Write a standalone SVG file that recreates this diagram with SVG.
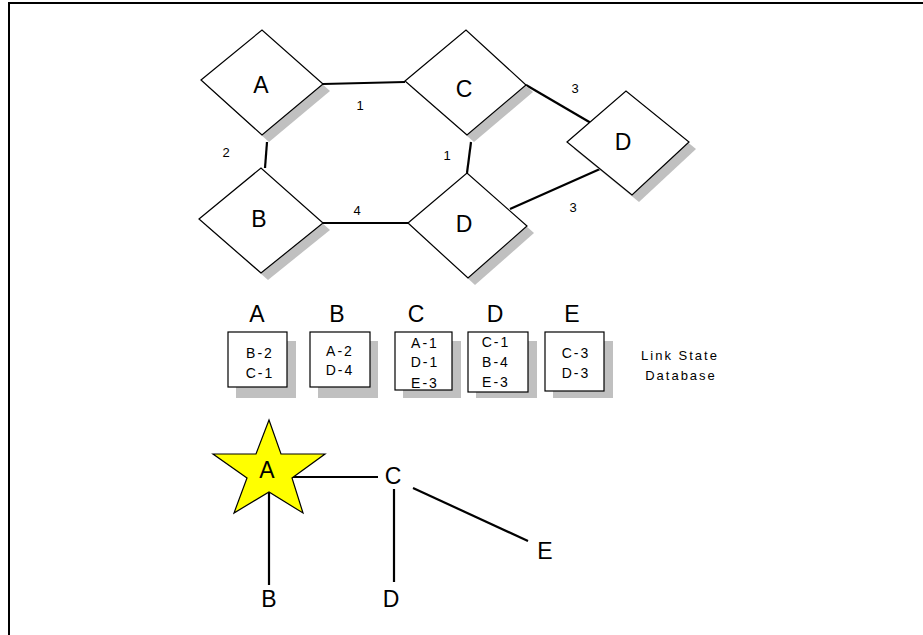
<svg xmlns="http://www.w3.org/2000/svg" width="923" height="635" viewBox="0 0 923 635">
<style>
.frame{fill:none;stroke:#000;stroke-width:2}
.dia{fill:#fff;stroke:#000;stroke-width:1.2}
.sh{fill:#c0c0c0;stroke:none}
.box{fill:#fff;stroke:#000;stroke-width:1.2}
.ln{stroke:#000;stroke-width:2.2;fill:none}
.big{font-family:"Liberation Sans",Arial,sans-serif;font-size:23px;text-anchor:middle;fill:#000}
.lbl{font-family:"Liberation Sans",Arial,sans-serif;font-size:13px;text-anchor:middle;fill:#000}
.db{font-family:"Liberation Sans",Arial,sans-serif;font-size:14px;letter-spacing:2px;text-anchor:middle;fill:#000}
.cap{font-family:"Liberation Sans",Arial,sans-serif;font-size:13px;letter-spacing:2px;text-anchor:middle;fill:#000}
</style>
<rect width="923" height="635" fill="#fff"/>
<polyline class="frame" points="9,635 9,3 923,3"/>

<g id="connectors">
<line class="ln" x1="323" y1="84" x2="405" y2="82"/>
<line class="ln" x1="267" y1="142" x2="265" y2="168"/>
<line class="ln" x1="471" y1="142" x2="467" y2="173"/>
<line class="ln" x1="323" y1="223" x2="410" y2="223"/>
<line class="ln" x1="526" y1="85" x2="591" y2="123"/>
<line class="ln" x1="510" y1="209" x2="600" y2="169"/>
<text class="lbl" x="360" y="110">1</text>
<text class="lbl" x="226" y="157">2</text>
<text class="lbl" x="447" y="160">1</text>
<text class="lbl" x="357" y="215">4</text>
<text class="lbl" x="575" y="93">3</text>
<text class="lbl" x="573" y="212">3</text>
<line class="ln" x1="291" y1="477" x2="378" y2="477"/>
<line class="ln" x1="269" y1="492" x2="269" y2="585"/>
<line class="ln" x1="394" y1="489" x2="394" y2="582"/>
<line class="ln" x1="413" y1="488" x2="528" y2="541"/>
</g>

<g id="node-A">
<polygon class="sh" points="208,87 269,37 330,91 269,142"/>
<polygon class="dia" points="201,80 262,30 323,84 262,135"/>
<text class="big" x="261" y="93">A</text>
</g>
<g id="node-C">
<polygon class="sh" points="412,88 473,37 533,92 474,142"/>
<polygon class="dia" points="405,81 466,30 526,85 467,135"/>
<text class="big" x="464" y="97">C</text>
</g>
<g id="node-B">
<polygon class="sh" points="206,226 268,175 330,230 268,280"/>
<polygon class="dia" points="199,219 261,168 323,223 261,273"/>
<text class="big" x="259" y="227">B</text>
</g>
<g id="node-D1">
<polygon class="sh" points="415,230 474,180 534,233 475,285"/>
<polygon class="dia" points="408,223 467,173 527,226 468,278"/>
<text class="big" x="464" y="232">D</text>
</g>
<g id="node-D2">
<polygon class="sh" points="574,149 633,98 696,149 639,202"/>
<polygon class="dia" points="567,142 626,91 689,142 632,195"/>
<text class="big" x="623" y="150">D</text>
</g>

<g id="db-A">
<text class="big" x="257" y="322">A</text>
<rect class="sh" x="236" y="341" width="60" height="57"/>
<rect class="box" x="228" y="332" width="59" height="55"/>
<text class="db" x="260" y="358">B-2</text>
<text class="db" x="260" y="378">C-1</text>
</g>
<g id="db-B">
<text class="big" x="337" y="322">B</text>
<rect class="sh" x="318" y="341" width="60" height="57"/>
<rect class="box" x="310" y="332" width="60" height="55"/>
<text class="db" x="340" y="356">A-2</text>
<text class="db" x="340" y="375">D-4</text>
</g>
<g id="db-C">
<text class="big" x="416" y="322">C</text>
<rect class="sh" x="403" y="341" width="58" height="57"/>
<rect class="box" x="395" y="332" width="57" height="58"/>
<text class="db" x="425" y="348">A-1</text>
<text class="db" x="425" y="367">D-1</text>
<text class="db" x="425" y="388">E-3</text>
</g>
<g id="db-D">
<text class="big" x="495" y="322">D</text>
<rect class="sh" x="476" y="341" width="61" height="57"/>
<rect class="box" x="468" y="332" width="60" height="60"/>
<text class="db" x="496" y="347">C-1</text>
<text class="db" x="496" y="367">B-4</text>
<text class="db" x="496" y="387">E-3</text>
</g>
<g id="db-E">
<text class="big" x="572" y="322">E</text>
<rect class="sh" x="553" y="341" width="60" height="57"/>
<rect class="box" x="545" y="332" width="59" height="59"/>
<text class="db" x="576" y="358">C-3</text>
<text class="db" x="576" y="378">D-3</text>
</g>
<g id="db-label">
<text class="cap" x="680" y="360">Link State</text>
<text class="cap" x="681" y="380">Database</text>
</g>

<g id="tree-A">
<polygon fill="#ffff00" stroke="#000" stroke-width="1.2" points="269,420 281,454 325,454 292,478 303,513 269,492 234,513 247,478 213,454 256,454"/>
<text class="big" x="267" y="478">A</text>
</g>
<g id="tree-C"><text class="big" x="393" y="484">C</text></g>
<g id="tree-B"><text class="big" x="269" y="607">B</text></g>
<g id="tree-D"><text class="big" x="391" y="607">D</text></g>
<g id="tree-E"><text class="big" x="545" y="559">E</text></g>
</svg>
